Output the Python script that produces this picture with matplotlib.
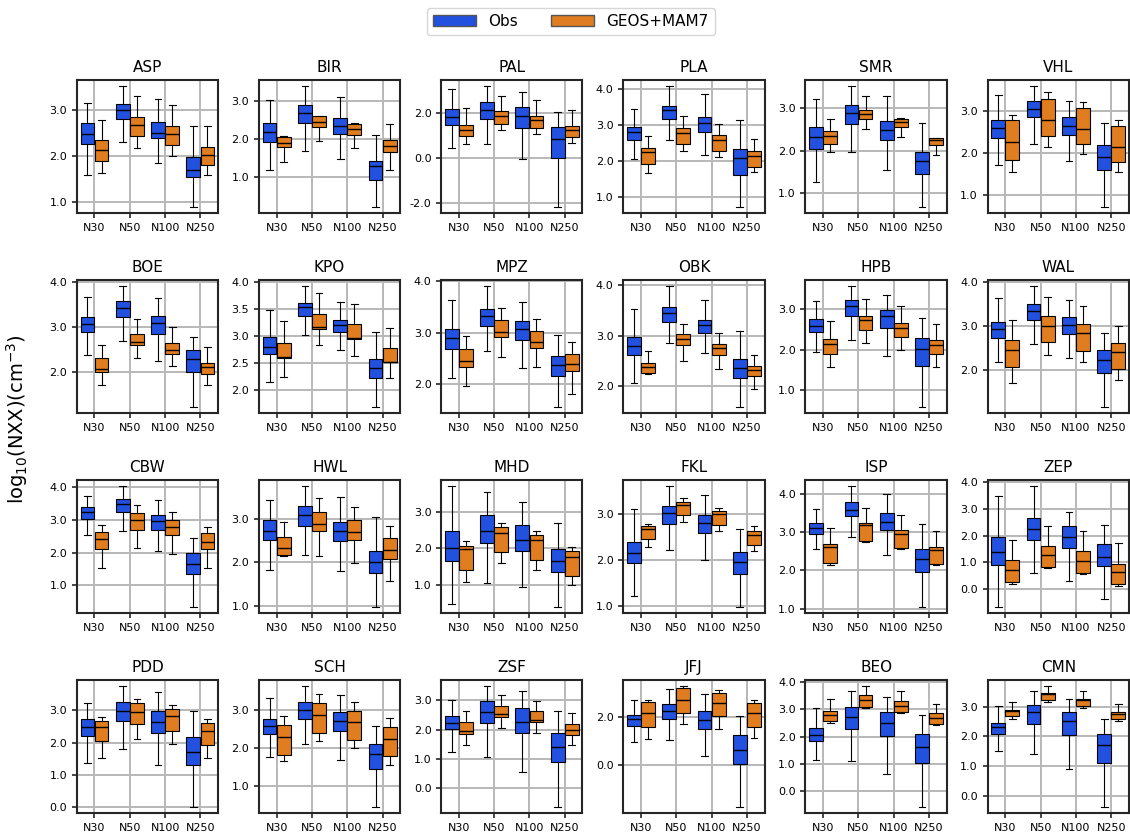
import matplotlib
matplotlib.use("Agg")
import matplotlib.pyplot as plt
import matplotlib.patches as mpatches
from matplotlib.ticker import FormatStrFormatter

# size classes and stations
sizes = ["N30", "N50", "N100", "N250"]
stations = ["ASP", "BIR", "PAL", "PLA", "SMR", "VHL",
            "BOE", "KPO", "MPZ", "OBK", "HPB", "WAL",
            "CBW", "HWL", "MHD", "FKL", "ISP", "ZEP",
            "PDD", "SCH", "ZSF", "JFJ", "BEO", "CMN"]

# each row: [whislo, q1, median, q3, whishi] for N30, N50, N100, N250
ASP_obs = [[1.59, 2.26, 2.47, 2.71, 3.14], [2.30, 2.80, 3.00, 3.12, 3.51], [1.84, 2.38, 2.50, 2.73, 3.23], [0.90, 1.55, 1.70, 1.97, 2.64]]
ASP_mod = [[1.63, 1.89, 2.14, 2.35, 2.77], [2.18, 2.43, 2.67, 2.84, 3.29], [2.01, 2.23, 2.47, 2.65, 3.10], [1.59, 1.80, 2.02, 2.20, 2.64]]
BIR_obs = [[1.18, 1.91, 2.18, 2.41, 3.02], [1.68, 2.41, 2.68, 2.89, 3.39], [1.46, 2.12, 2.33, 2.54, 3.09], [0.20, 0.91, 1.29, 1.41, 2.09]]
BIR_mod = [[1.39, 1.78, 1.90, 2.04, 2.06], [1.94, 2.31, 2.45, 2.59, 2.61], [1.75, 2.11, 2.27, 2.39, 2.41], [1.18, 1.65, 1.82, 1.96, 2.40]]
PAL_obs = [[0.46, 1.49, 1.85, 2.21, 3.10], [0.64, 1.76, 2.16, 2.52, 3.22], [-0.01, 1.36, 1.90, 2.30, 2.96], [-2.16, 0.03, 0.87, 1.40, 2.07]]
PAL_mod = [[0.64, 1.00, 1.28, 1.49, 2.25], [1.28, 1.54, 1.90, 2.09, 2.78], [1.09, 1.36, 1.69, 1.90, 2.61], [0.70, 0.96, 1.28, 1.45, 2.16]]
PLA_obs = [[2.04, 2.58, 2.80, 2.93, 3.43], [2.57, 3.16, 3.41, 3.52, 4.07], [2.15, 2.80, 3.05, 3.21, 3.85], [0.71, 1.59, 2.07, 2.32, 3.14]]
PLA_mod = [[1.65, 1.90, 2.23, 2.34, 2.68], [2.27, 2.46, 2.77, 2.90, 3.23], [2.09, 2.26, 2.58, 2.71, 3.01], [1.67, 1.81, 2.13, 2.26, 2.59]]
SMR_obs = [[1.25, 2.04, 2.33, 2.56, 3.22], [1.97, 2.63, 2.90, 3.08, 3.53], [1.54, 2.25, 2.49, 2.71, 3.29], [0.67, 1.46, 1.75, 1.98, 2.65]]
SMR_mod = [[1.97, 2.17, 2.35, 2.47, 2.75], [2.52, 2.75, 2.87, 2.97, 3.29], [2.33, 2.56, 2.69, 2.75, 2.77], [1.90, 2.13, 2.25, 2.29, 2.31]]
VHL_obs = [[1.72, 2.37, 2.61, 2.80, 3.39], [2.23, 2.86, 3.06, 3.25, 3.60], [1.82, 2.44, 2.66, 2.87, 3.25], [0.72, 1.60, 1.92, 2.19, 2.72]]
VHL_mod = [[1.55, 1.84, 2.27, 2.78, 2.92], [2.15, 2.41, 2.80, 3.29, 3.45], [1.98, 2.22, 2.58, 3.08, 3.23], [1.55, 1.79, 2.15, 2.65, 2.80]]
BOE_obs = [[2.38, 2.88, 3.06, 3.21, 3.65], [2.69, 3.21, 3.42, 3.57, 3.90], [2.25, 2.85, 3.09, 3.24, 3.63], [1.24, 2.00, 2.29, 2.49, 2.77]]
BOE_mod = [[1.72, 2.02, 2.07, 2.31, 2.60], [2.32, 2.60, 2.68, 2.84, 3.18], [2.14, 2.40, 2.50, 2.64, 2.99], [1.72, 1.96, 2.11, 2.20, 2.55]]
KPO_obs = [[2.15, 2.66, 2.79, 2.98, 3.47], [3.02, 3.36, 3.53, 3.60, 3.92], [2.73, 3.07, 3.20, 3.29, 3.63], [1.68, 2.22, 2.41, 2.57, 3.06]]
KPO_mod = [[2.23, 2.58, 2.60, 2.86, 3.27], [2.83, 3.13, 3.16, 3.40, 3.80], [2.63, 2.94, 2.96, 3.21, 3.59], [2.21, 2.51, 2.52, 2.78, 3.14]]
MPZ_obs = [[2.12, 2.68, 2.90, 3.06, 3.63], [2.65, 3.13, 3.32, 3.45, 3.90], [2.32, 2.85, 3.07, 3.22, 3.59], [1.56, 2.16, 2.37, 2.54, 2.95]]
MPZ_mod = [[1.97, 2.34, 2.45, 2.68, 2.93], [2.53, 2.91, 3.01, 3.24, 3.47], [2.34, 2.70, 2.82, 3.03, 3.26], [1.81, 2.26, 2.39, 2.58, 2.81]]
OBK_obs = [[2.07, 2.62, 2.80, 2.97, 3.52], [2.85, 3.27, 3.45, 3.57, 3.98], [2.66, 3.05, 3.21, 3.31, 3.70], [1.59, 2.17, 2.37, 2.54, 3.09]]
OBK_mod = [[2.24, 2.27, 2.39, 2.45, 2.69], [2.50, 2.82, 2.94, 3.03, 3.24], [2.34, 2.61, 2.76, 2.84, 3.05], [1.95, 2.21, 2.32, 2.40, 2.62]]
HPB_obs = [[1.93, 2.43, 2.58, 2.76, 3.22], [2.23, 2.83, 3.08, 3.23, 3.58], [1.83, 2.53, 2.83, 2.98, 3.35], [0.57, 1.60, 2.01, 2.28, 2.78]]
HPB_mod = [[1.56, 1.88, 2.13, 2.26, 2.71], [2.16, 2.48, 2.73, 2.83, 3.25], [1.98, 2.31, 2.53, 2.66, 3.08], [1.56, 1.88, 2.11, 2.23, 2.63]]
WAL_obs = [[2.17, 2.72, 2.92, 3.08, 3.63], [2.58, 3.13, 3.33, 3.50, 3.90], [2.26, 2.81, 3.02, 3.20, 3.58], [1.15, 1.92, 2.22, 2.45, 2.83]]
WAL_mod = [[1.70, 2.06, 2.45, 2.67, 3.13], [2.33, 2.63, 2.99, 3.22, 3.65], [2.17, 2.43, 2.83, 3.04, 3.44], [1.77, 2.01, 2.40, 2.61, 2.99]]
CBW_obs = [[2.53, 3.04, 3.24, 3.39, 3.73], [2.66, 3.24, 3.48, 3.63, 4.04], [2.05, 2.69, 2.96, 3.15, 3.60], [0.34, 1.34, 1.65, 1.98, 2.44]]
CBW_mod = [[1.53, 2.10, 2.41, 2.65, 2.86], [2.14, 2.71, 2.99, 3.21, 3.45], [1.95, 2.53, 2.78, 2.99, 3.24], [1.53, 2.10, 2.32, 2.59, 2.80]]
HWL_obs = [[1.83, 2.52, 2.72, 2.98, 3.43], [2.17, 2.84, 3.09, 3.30, 3.75], [1.81, 2.49, 2.72, 2.93, 3.50], [0.98, 1.76, 2.02, 2.27, 3.05]]
HWL_mod = [[2.15, 2.18, 2.32, 2.58, 2.93], [2.15, 2.72, 2.88, 3.16, 3.48], [1.99, 2.52, 2.70, 2.98, 3.27], [1.58, 2.08, 2.29, 2.56, 2.84]]
MHD_obs = [[0.47, 1.65, 2.00, 2.48, 3.72], [1.04, 2.14, 2.48, 2.92, 3.57], [0.92, 1.93, 2.24, 2.64, 3.28], [0.38, 1.35, 1.65, 1.98, 2.71]]
MHD_mod = [[1.06, 1.40, 1.98, 2.06, 2.20], [1.60, 1.90, 2.42, 2.58, 2.70], [1.40, 1.68, 2.23, 2.36, 2.48], [0.99, 1.24, 1.76, 1.92, 2.03]]
FKL_obs = [[1.23, 1.94, 2.16, 2.39, 3.11], [2.22, 2.79, 3.03, 3.18, 3.62], [2.00, 2.59, 2.81, 2.99, 3.42], [0.98, 1.70, 1.96, 2.17, 2.69]]
FKL_mod = [[2.28, 2.46, 2.68, 2.74, 2.80], [2.83, 2.99, 3.20, 3.27, 3.35], [2.64, 2.77, 3.00, 3.07, 3.15], [2.20, 2.33, 2.56, 2.63, 2.74]]
ISP_obs = [[2.57, 2.96, 3.12, 3.23, 3.61], [2.88, 3.43, 3.59, 3.78, 4.21], [2.41, 3.07, 3.28, 3.51, 4.01], [1.04, 1.96, 2.30, 2.57, 3.22]]
ISP_mod = [[2.14, 2.19, 2.62, 2.68, 3.11], [2.75, 2.78, 3.18, 3.25, 3.64], [2.57, 2.59, 2.96, 3.07, 3.44], [2.15, 2.17, 2.54, 2.62, 3.02]]
ZEP_obs = [[-0.66, 0.91, 1.39, 1.95, 3.47], [0.61, 1.84, 2.25, 2.66, 3.84], [0.31, 1.54, 1.95, 2.36, 2.88], [-0.36, 0.87, 1.20, 1.69, 2.40]]
ZEP_mod = [[0.20, 0.27, 0.72, 1.10, 1.84], [0.78, 0.84, 1.28, 1.60, 2.36], [0.57, 0.61, 1.06, 1.43, 2.17], [0.12, 0.20, 0.65, 0.94, 1.71]]
PDD_obs = [[1.38, 2.22, 2.47, 2.74, 3.24], [1.81, 2.68, 2.98, 3.27, 3.75], [1.32, 2.31, 2.65, 2.98, 3.58], [0.01, 1.32, 1.72, 2.16, 2.98]]
PDD_mod = [[1.53, 2.05, 2.47, 2.68, 2.80], [2.12, 2.59, 2.96, 3.24, 3.36], [1.97, 2.37, 2.84, 3.04, 3.18], [1.53, 1.94, 2.37, 2.62, 2.74]]
SCH_obs = [[1.77, 2.38, 2.59, 2.77, 3.32], [2.11, 2.77, 3.00, 3.22, 3.63], [1.69, 2.46, 2.72, 2.96, 3.39], [0.46, 1.46, 1.85, 2.11, 2.59]]
SCH_mod = [[1.67, 1.82, 2.30, 2.61, 2.84], [2.19, 2.40, 2.88, 3.19, 3.43], [2.01, 2.22, 2.69, 2.97, 3.22], [1.56, 1.80, 2.25, 2.56, 2.79]]
ZSF_obs = [[1.25, 2.01, 2.23, 2.48, 3.01], [1.08, 2.24, 2.59, 2.97, 3.49], [0.56, 1.90, 2.28, 2.75, 3.32], [-0.64, 0.91, 1.42, 1.90, 2.65]]
ZSF_mod = [[1.49, 1.86, 1.97, 2.27, 2.65], [2.07, 2.44, 2.52, 2.82, 3.19], [1.90, 2.27, 2.34, 2.65, 2.99], [1.49, 1.83, 2.00, 2.21, 2.58]]
JFJ_obs = [[0.94, 1.61, 1.90, 2.07, 2.72], [1.03, 1.90, 2.24, 2.53, 3.15], [0.36, 1.49, 1.86, 2.24, 2.94], [-1.76, 0.03, 0.61, 1.24, 2.03]]
JFJ_mod = [[1.07, 1.57, 2.15, 2.61, 2.72], [1.69, 2.15, 2.72, 3.18, 3.28], [1.49, 2.03, 2.57, 2.99, 3.11], [1.11, 1.57, 2.15, 2.57, 2.69]]
BEO_obs = [[1.14, 1.84, 2.05, 2.32, 3.04], [1.10, 2.28, 2.72, 3.09, 3.67], [0.62, 2.01, 2.50, 2.91, 3.45], [-0.60, 1.02, 1.61, 2.08, 2.78]]
BEO_mod = [[2.50, 2.58, 2.79, 2.94, 3.37], [3.05, 3.09, 3.35, 3.54, 3.86], [2.87, 2.91, 3.12, 3.32, 3.67], [2.43, 2.47, 2.69, 2.87, 3.19]]
CMN_obs = [[1.51, 2.08, 2.31, 2.44, 3.03], [1.40, 2.41, 2.81, 3.04, 3.51], [0.90, 2.03, 2.51, 2.81, 3.27], [-0.38, 1.11, 1.71, 2.07, 2.58]]
CMN_mod = [[2.58, 2.68, 2.84, 2.90, 3.15], [3.15, 3.21, 3.42, 3.45, 3.69], [2.94, 3.03, 3.21, 3.25, 3.51], [2.51, 2.58, 2.76, 2.81, 3.08]]

obs_all = [ASP_obs, BIR_obs, PAL_obs, PLA_obs, SMR_obs, VHL_obs,
           BOE_obs, KPO_obs, MPZ_obs, OBK_obs, HPB_obs, WAL_obs,
           CBW_obs, HWL_obs, MHD_obs, FKL_obs, ISP_obs, ZEP_obs,
           PDD_obs, SCH_obs, ZSF_obs, JFJ_obs, BEO_obs, CMN_obs]
mod_all = [ASP_mod, BIR_mod, PAL_mod, PLA_mod, SMR_mod, VHL_mod,
           BOE_mod, KPO_mod, MPZ_mod, OBK_mod, HPB_mod, WAL_mod,
           CBW_mod, HWL_mod, MHD_mod, FKL_mod, ISP_mod, ZEP_mod,
           PDD_mod, SCH_mod, ZSF_mod, JFJ_mod, BEO_mod, CMN_mod]

# y tick values per panel
yticks_all = [[1, 2, 3], [1, 2, 3], [-2, 0, 2], [1, 2, 3, 4], [1, 2, 3], [1, 2, 3],
              [2, 3, 4], [2, 2.5, 3, 3.5, 4], [2, 3, 4], [2, 3, 4], [1, 2, 3], [2, 3, 4],
              [1, 2, 3, 4], [1, 2, 3], [1, 2, 3], [1, 2, 3], [1, 2, 3, 4], [0, 1, 2, 3, 4],
              [0, 1, 2, 3], [1, 2, 3], [0, 1, 2, 3], [0, 2], [0, 1, 2, 3, 4], [0, 1, 2, 3]]

c_obs = '#2250df'
c_mod = '#df7d20'


def to_stats(rows):
    out = []
    for r in rows:
        out.append({'whislo': r[0], 'q1': r[1], 'med': r[2], 'q3': r[3], 'whishi': r[4], 'fliers': []})
    return out


fig, axes = plt.subplots(4, 6, figsize=(11.3, 8.38), dpi=100)
fig.subplots_adjust(left=0.068, right=0.999, top=0.9045, bottom=0.0298, wspace=0.29, hspace=0.504)

for k, ax in enumerate(axes.flat):
    x = list(range(len(sizes)))
    for rows, col, off in [(obs_all[k], c_obs, -0.2), (mod_all[k], c_mod, 0.2)]:
        ax.bxp(to_stats(rows), positions=[i + off for i in x], widths=0.39,
               patch_artist=True, showfliers=False, manage_ticks=False,
               capwidths=0.19,
               boxprops=dict(facecolor=col, edgecolor='black', linewidth=0.8),
               medianprops=dict(color='black', linewidth=1.0),
               whiskerprops=dict(color='black', linewidth=0.8),
               capprops=dict(color='black', linewidth=0.8))
    lo = min(min(r[0] for r in obs_all[k]), min(r[0] for r in mod_all[k]))
    hi = max(max(r[4] for r in obs_all[k]), max(r[4] for r in mod_all[k]))
    pad = 0.05 * (hi - lo)
    ax.set_xticks(x)
    ax.set_xticklabels(sizes, fontsize=8)
    ax.set_yticks(yticks_all[k])
    ax.yaxis.set_major_formatter(FormatStrFormatter('%.1f'))
    ax.set_xlim(-0.5, 3.5)
    ax.set_ylim(lo - pad, hi + pad)
    ax.tick_params(axis='y', labelsize=8)
    ax.tick_params(length=3.5, width=1.2, color='#262626')
    ax.grid(True, color='#b8b8b8', linewidth=1.4)
    ax.set_axisbelow(True)
    for s in ax.spines.values():
        s.set_linewidth(1.5)
        s.set_color('#262626')
    ax.set_title(stations[k], fontsize=11)

fig.text(0.015, 0.5, r'log$_{10}$(NXX)(cm$^{-3}$)', rotation=90, va='center', ha='center', fontsize=14)

handles = [mpatches.Patch(facecolor=c_obs, edgecolor='#555555', label='Obs'),
           mpatches.Patch(facecolor=c_mod, edgecolor='#555555', label='GEOS+MAM7')]
fig.legend(handles=handles, loc='upper center', bbox_to_anchor=(0.505, 1.0), ncol=2,
           fontsize=11, frameon=True, handlelength=2.8, columnspacing=2.2)

fig.savefig('out.png', dpi=100)
